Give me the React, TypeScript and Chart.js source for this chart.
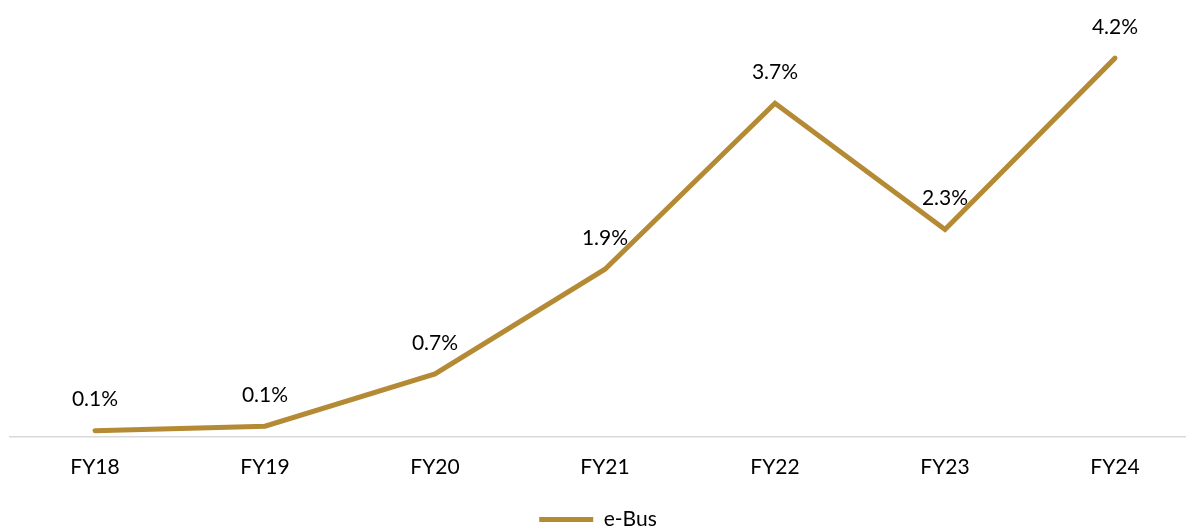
import React, { useEffect, useRef } from "react";
import { Chart, registerables } from "chart.js";

Chart.register(...registerables);

const categories = ["FY18", "FY19", "FY20", "FY21", "FY22", "FY23", "FY24"];
const eBusShare = [0.07, 0.12, 0.7, 1.86, 3.7, 2.3, 4.2];
const seriesName = "e-Bus";

const GOLD = "#B58A35";
const FONT = "Lato, 'Open Sans', sans-serif";
const FONT_SIZE = 21;

const labelPlugin = {
  id: "pointLabels",
  afterDatasetsDraw(chart: any) {
    const ctx = chart.ctx;
    const meta = chart.getDatasetMeta(0);
    ctx.save();
    ctx.font = `${FONT_SIZE}px ${FONT}`;
    ctx.fillStyle = "#000";
    ctx.textAlign = "center";
    ctx.textBaseline = "middle";
    meta.data.forEach((pt: any, i: number) => {
      ctx.fillText(eBusShare[i].toFixed(1) + "%", pt.x, pt.y - 31);
    });
    ctx.restore();
  },
};

export default function App() {
  const ref = useRef<HTMLCanvasElement>(null);
  useEffect(() => {
    document.body.style.overflow = "hidden";
    const chart = new Chart(ref.current!, {
      type: "line",
      data: {
        datasets: [
          {
            label: seriesName,
            data: eBusShare.map((v, i) => ({ x: i, y: v })),
            borderColor: GOLD,
            backgroundColor: GOLD,
            borderWidth: 5,
            borderCapStyle: "round",
            borderJoinStyle: "miter",
            pointRadius: 0,
            pointStyle: "line",
            tension: 0,
          },
        ],
      },
      options: {
        animation: false,
        responsive: true,
        maintainAspectRatio: false,
        layout: { padding: { left: 10, right: 0, top: 0, bottom: 0 } },
        scales: {
          x: {
            type: "linear",
            min: -0.5,
            max: -0.5 + 1176 / 170,
            afterBuildTicks: (scale: any) => {
              scale.ticks = categories.map((_, i) => ({ value: i }));
            },
            afterFit: (scale: any) => {
              scale.height = 62;
            },
            grid: { display: false },
            border: { display: true, color: "#D9D9D9", width: 1.5 },
            ticks: {
              callback: (v: any) => categories[v] ?? "",
              color: "#000",
              font: { family: FONT, size: FONT_SIZE },
              padding: 10,
              maxRotation: 0,
              autoSkip: false,
            },
          },
          y: {
            display: false,
            min: 0,
            max: 436 / 90,
          },
        },
        plugins: {
          legend: {
            position: "bottom",
            labels: {
              usePointStyle: true,
              pointStyleWidth: 54,
              boxWidth: 54,
              color: "#000",
              font: { family: FONT, size: FONT_SIZE },
              padding: 10,
            },
          },
          tooltip: { enabled: false },
        },
      },
      plugins: [labelPlugin],
    });
    return () => chart.destroy();
  }, []);
  return (
    <div style={{ position: "absolute", left: 0, top: 0, width: 1186, height: 540 }}>
      <canvas ref={ref} />
    </div>
  );
}
